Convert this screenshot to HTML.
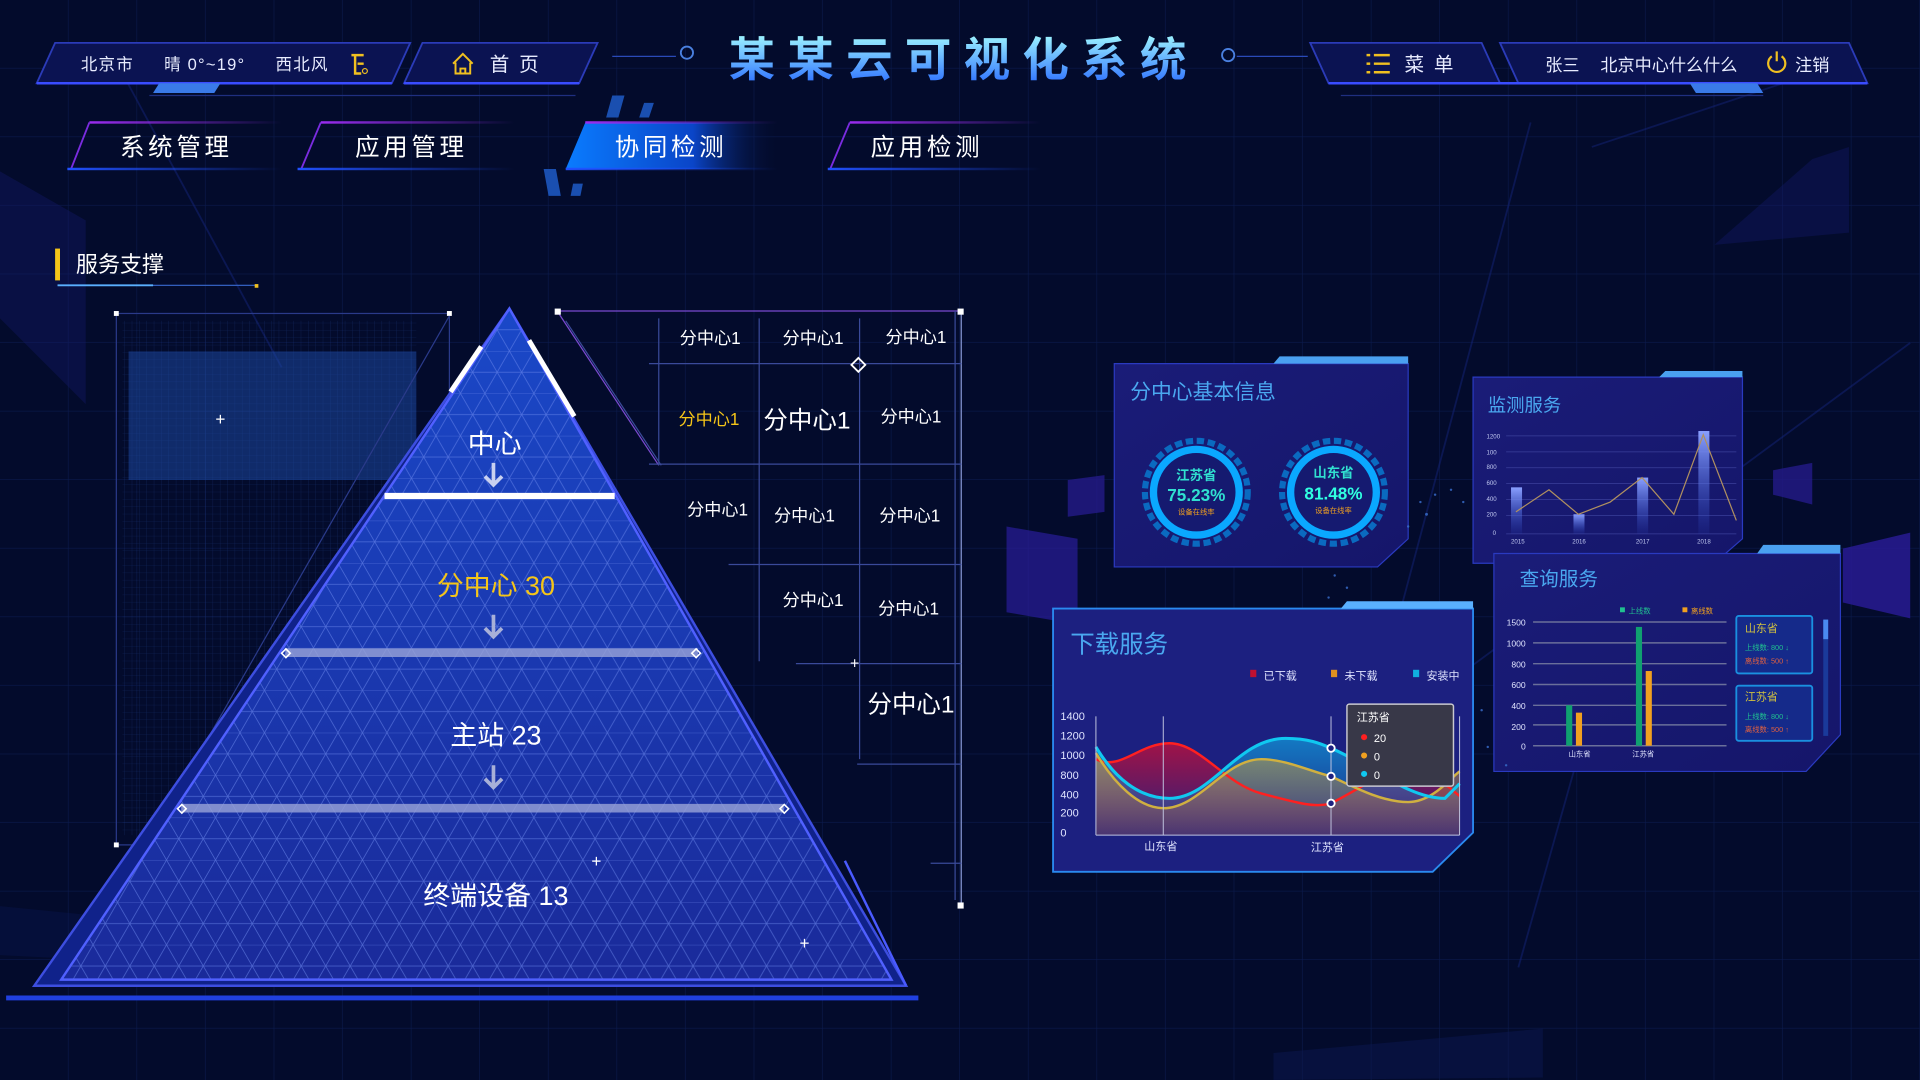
<!DOCTYPE html>
<html><head><meta charset="utf-8">
<style>
html,body{margin:0;padding:0;width:1920px;height:1080px;overflow:hidden;background:#030b2c;}
#root{width:1568px;height:882px;transform:scale(1.22449);transform-origin:0 0;}
svg text{font-family:"Liberation Sans","Noto Sans CJK SC",sans-serif;}
</style></head><body><div id="root">
<svg width="1568" height="882" viewBox="0 0 1568 882" xmlns="http://www.w3.org/2000/svg">
<defs>
<pattern id="grid" width="56" height="56" patternUnits="userSpaceOnUse"><path d="M56 0V56M0 56H56" stroke="#0b1a4c" stroke-width="1" fill="none"/></pattern>
<pattern id="tri" width="20" height="34.64" patternUnits="userSpaceOnUse" x="416" y="252"><path d="M0 0H20M0 17.32H20M0 0L20 34.64M20 0L0 34.64" stroke="#6f8cf0" stroke-width="0.6" fill="none" opacity="0.6"/></pattern>
<pattern id="fine" width="6" height="6" patternUnits="userSpaceOnUse"><path d="M6 0V6M0 6H6" stroke="#2a4fa8" stroke-width="0.5" fill="none"/></pattern>
<linearGradient id="tg" x1="0" y1="0" x2="0" y2="1"><stop offset="0" stop-color="#9ff6ff"/><stop offset="1" stop-color="#2a6cff"/></linearGradient>
<linearGradient id="pyr" x1="0" y1="0" x2="0" y2="1"><stop offset="0" stop-color="#1a48c8"/><stop offset="1" stop-color="#1a2a9a"/></linearGradient>
<linearGradient id="act" x1="0" y1="0" x2="1" y2="0"><stop offset="0" stop-color="#0a7cff"/><stop offset="0.6" stop-color="#0a45c8"/><stop offset="1" stop-color="#05103a" stop-opacity="0"/></linearGradient>
<linearGradient id="tabtop" x1="0" y1="0" x2="1" y2="0"><stop offset="0" stop-color="#9b2cf0"/><stop offset="1" stop-color="#9b2cf0" stop-opacity="0"/></linearGradient>
<linearGradient id="tabbot" x1="0" y1="0" x2="1" y2="0"><stop offset="0" stop-color="#2050ff"/><stop offset="1" stop-color="#2050ff" stop-opacity="0"/></linearGradient>
<linearGradient id="panel" x1="0" y1="0" x2="1" y2="1"><stop offset="0" stop-color="#1a1c78"/><stop offset="1" stop-color="#15166a"/></linearGradient>
<linearGradient id="redf" x1="0" y1="0" x2="0" y2="1"><stop offset="0" stop-color="#c0103a" stop-opacity="0.8"/><stop offset="1" stop-color="#c0103a" stop-opacity="0.1"/></linearGradient>
<linearGradient id="cyf" x1="0" y1="0" x2="0" y2="1"><stop offset="0" stop-color="#10a0e0" stop-opacity="0.7"/><stop offset="1" stop-color="#10a0e0" stop-opacity="0.05"/></linearGradient>
<linearGradient id="yef" x1="0" y1="0" x2="0" y2="1"><stop offset="0" stop-color="#c0a040" stop-opacity="0.6"/><stop offset="1" stop-color="#c07040" stop-opacity="0.2"/></linearGradient>
<linearGradient id="barg" x1="0" y1="0" x2="0" y2="1"><stop offset="0" stop-color="#8aa0ff"/><stop offset="1" stop-color="#3050d0" stop-opacity="0.1"/></linearGradient>
<clipPath id="pc"><polygon points="416,252 728,800 50,800"/></clipPath>
</defs>
<rect width="1568" height="882" fill="#030b2c"/>
<rect width="1568" height="882" fill="url(#grid)"/>
<!-- streaks -->
<g stroke="#142478" stroke-width="1.5" opacity="0.5">
<line x1="100" y1="60" x2="230" y2="300"/><line x1="1250" y1="100" x2="1130" y2="550"/><line x1="1370" y1="330" x2="1240" y2="790"/>
<line x1="1560" y1="280" x2="1180" y2="560"/><line x1="1300" y1="120" x2="1480" y2="60"/>
</g>
<polygon points="0,140 70,180 70,330 0,260" fill="#141a6a" opacity="0.4"/>
<polygon points="1480,130 1510,120 1510,190 1400,200" fill="#141a6a" opacity="0.4"/>
<polygon points="1040,860 1260,840 1260,880 1040,882" fill="#0b1750" opacity="0.5"/>
<polygon points="0,740 200,760 200,790 0,780" fill="#0b1750" opacity="0.4"/>

<!-- header left -->
<polygon points="45,35 335,35 320,68 30,68" fill="#0b1352" stroke="#2b3bb8" stroke-width="1.5"/>
<line x1="30" y1="68" x2="320" y2="68" stroke="#3a4cff" stroke-width="2"/>
<polygon points="345,35 488,35 473,68 330,68" fill="#0b1352" stroke="#2b3bb8" stroke-width="1.5"/>
<line x1="330" y1="68" x2="473" y2="68" stroke="#3a4cff" stroke-width="2"/>
<polygon points="130,68 180,68 175,76 125,76" fill="#3a7ae8"/>
<line x1="122" y1="78" x2="470" y2="78" stroke="#1f2f80"/>
<g fill="#e8ecff" font-size="13.5" letter-spacing="1"><text x="66" y="57">北京市</text><text x="134" y="57">晴 0°~19°</text><text x="225" y="57">西北风</text></g>
<path d="M287 45h10M290 45v15h5M292 52h5" stroke="#f0c020" stroke-width="2" fill="none"/><circle cx="298" cy="58" r="2" stroke="#f0c020" fill="none"/>
<path d="M370 52l8-8 8 8M372 51v9h12v-9M376 60v-4h4v4" stroke="#f0c020" stroke-width="1.6" fill="none"/>
<text x="400" y="58" fill="#e8ecff" font-size="16" letter-spacing="8">首页</text>
<!-- title -->
<line x1="500" y1="46" x2="552" y2="46" stroke="#2a4ab8"/><circle cx="561" cy="43" r="5" fill="none" stroke="#4a80e0" stroke-width="1.5"/>
<line x1="1010" y1="46" x2="1068" y2="46" stroke="#2a4ab8"/><circle cx="1003" cy="45" r="5" fill="none" stroke="#4a80e0" stroke-width="1.5"/>
<text x="787" y="62" text-anchor="middle" fill="url(#tg)" font-size="38" font-weight="bold" letter-spacing="10">某某云可视化系统</text>
<!-- header right -->
<polygon points="1070,35 1210,35 1225,68 1085,68" fill="#0b1352" stroke="#2b3bb8" stroke-width="1.5"/>
<polygon points="1225,35 1510,35 1525,68 1240,68" fill="#0b1352" stroke="#2b3bb8" stroke-width="1.5"/>
<line x1="1085" y1="68" x2="1525" y2="68" stroke="#3a4cff" stroke-width="2"/>
<polygon points="1380,68 1435,68 1440,76 1385,76" fill="#3a7ae8"/>
<line x1="1095" y1="78" x2="1440" y2="78" stroke="#1f2f80"/>
<g stroke="#f0c020" stroke-width="2"><line x1="1116" y1="45" x2="1119" y2="45"/><line x1="1122" y1="45" x2="1135" y2="45"/><line x1="1116" y1="52" x2="1119" y2="52"/><line x1="1122" y1="52" x2="1135" y2="52"/><line x1="1116" y1="59" x2="1119" y2="59"/><line x1="1122" y1="59" x2="1135" y2="59"/></g>
<text x="1147" y="58" fill="#e8ecff" font-size="16" letter-spacing="8">菜单</text>
<text x="1262" y="58" fill="#e8ecff" font-size="14">张三</text>
<text x="1307" y="58" fill="#e8ecff" font-size="14">北京中心什么什么</text>
<path d="M1447 46a7 7 0 1 0 8 0M1451 42v8" stroke="#f0c020" stroke-width="1.8" fill="none"/>
<text x="1466" y="58" fill="#e8ecff" font-size="14">注销</text>

<!-- nav -->
<g>
<rect x="73" y="99" width="157" height="2" fill="url(#tabtop)"/><line x1="73" y1="100" x2="58" y2="138" stroke="#7a2ce0" stroke-width="1.5"/><rect x="55" y="137" width="175" height="2" fill="url(#tabbot)"/>
<text x="144" y="127" text-anchor="middle" fill="#fff" font-size="20" letter-spacing="3">系统管理</text>
<rect x="262" y="99" width="158" height="2" fill="url(#tabtop)"/><line x1="262" y1="100" x2="246" y2="138" stroke="#7a2ce0" stroke-width="1.5"/><rect x="243" y="137" width="177" height="2" fill="url(#tabbot)"/>
<text x="336" y="127" text-anchor="middle" fill="#fff" font-size="20" letter-spacing="3">应用管理</text>
<polygon points="478,100 635,100 635,138 462,138" fill="url(#act)"/>
<rect x="478" y="99" width="157" height="2" fill="url(#tabtop)"/><rect x="462" y="137" width="173" height="2" fill="url(#tabbot)"/>
<g fill="#1a4fb0"><polygon points="500,78 510,78 505,96 495,96"/><polygon points="526,84 534,84 530,96 522,96"/><polygon points="448,160 458,160 454,138 444,138"/><polygon points="468,150 476,150 474,160 466,160"/></g>
<text x="548" y="127" text-anchor="middle" fill="#fff" font-size="20" letter-spacing="3">协同检测</text>
<rect x="694" y="99" width="156" height="2" fill="url(#tabtop)"/><line x1="694" y1="100" x2="678" y2="138" stroke="#7a2ce0" stroke-width="1.5"/><rect x="676" y="137" width="174" height="2" fill="url(#tabbot)"/>
<text x="757" y="127" text-anchor="middle" fill="#fff" font-size="20" letter-spacing="3">应用检测</text>
</g>

<!-- section title -->
<rect x="45" y="203" width="4" height="26" fill="#f5c518"/>
<text x="62" y="222" fill="#fff" font-size="18">服务支撑</text>
<line x1="47" y1="233" x2="210" y2="233" stroke="#3a6ad0"/><line x1="47" y1="233" x2="125" y2="233" stroke="#5ab0ff" stroke-width="1.5"/><rect x="208" y="232" width="3" height="3" fill="#f0c020"/>

<!-- left frame -->
<rect x="95" y="256" width="272" height="434" fill="none" stroke="#2a3a8a" stroke-width="1"/>
<rect x="100" y="262" width="240" height="420" fill="url(#fine)" opacity="0.4"/>
<rect x="105" y="287" width="235" height="105" fill="#1e4ba8" opacity="0.5"/>
<rect x="93" y="254" width="4" height="4" fill="#fff"/><rect x="365" y="254" width="4" height="4" fill="#fff"/><rect x="93" y="688" width="4" height="4" fill="#fff"/>
<text x="180" y="347" fill="#fff" font-size="14" text-anchor="middle">+</text>
<line x1="367" y1="258" x2="80" y2="760" stroke="#2a3a8a"/>
<!-- pyramid -->
<polygon points="416,252 740,805 28,805" fill="#10228a" stroke="#3d4ee0" stroke-width="2"/>
<polygon points="416,252 728,800 50,800" fill="url(#pyr)"/>
<rect x="0" y="240" width="800" height="570" fill="url(#tri)" clip-path="url(#pc)"/>
<polygon points="416,252 728,800 50,800" fill="none" stroke="#5060ff" stroke-width="2"/>
<line x1="690" y1="703" x2="740" y2="805" stroke="#4a5aff" stroke-width="2"/>
<line x1="5" y1="815" x2="750" y2="815" stroke="#2040e0" stroke-width="4"/>
<line x1="368" y1="320" x2="393" y2="283" stroke="#fff" stroke-width="4"/>
<line x1="432" y1="278" x2="469" y2="340" stroke="#fff" stroke-width="4"/>
<line x1="314" y1="405" x2="502" y2="405" stroke="#fff" stroke-width="5"/>
<line x1="233" y1="533" x2="570" y2="533" stroke="#9aa4d8" stroke-width="7" opacity="0.8"/>
<line x1="148" y1="660" x2="640" y2="660" stroke="#9aa4d8" stroke-width="7" opacity="0.8"/>
<g fill="none" stroke="#fff" stroke-width="1.3"><rect x="231" y="531" width="5" height="5" transform="rotate(45 233.5 533.5)"/><rect x="566" y="531" width="5" height="5" transform="rotate(45 568.5 533.5)"/><rect x="146" y="658" width="5" height="5" transform="rotate(45 148.5 660.5)"/><rect x="638" y="658" width="5" height="5" transform="rotate(45 640.5 660.5)"/></g>
<text x="404" y="370" text-anchor="middle" fill="#fff" font-size="22">中心</text>
<path d="M403 378v16M396 389l7 7 7-7" stroke="#c8d0f0" stroke-width="3" fill="none"/>
<text x="405" y="486" text-anchor="middle" fill="#f5c518" font-size="22">分中心 30</text>
<path d="M403 502v16M396 513l7 7 7-7" stroke="#a8b0d8" stroke-width="3" fill="none"/>
<text x="405" y="608" text-anchor="middle" fill="#fff" font-size="22">主站 23</text>
<path d="M403 625v16M396 636l7 7 7-7" stroke="#a8b0d8" stroke-width="3" fill="none"/>
<text x="405" y="739" text-anchor="middle" fill="#fff" font-size="22">终端设备 13</text>
<text x="487" y="708" text-anchor="middle" fill="#fff" font-size="14">+</text>
<text x="657" y="775" text-anchor="middle" fill="#fff" font-size="14">+</text>

<!-- table -->
<g stroke="#3a4a9a" stroke-width="1" fill="none">
<line x1="455" y1="254" x2="785" y2="254" stroke="#7a4ad0"/>
<line x1="785" y1="254" x2="785" y2="740" stroke="#8a9ad8"/>
<line x1="780" y1="254" x2="780" y2="735"/>
<line x1="455" y1="254" x2="538" y2="380" stroke="#7a4ad0"/>
<line x1="462" y1="262" x2="540" y2="380"/>
<line x1="538" y1="260" x2="538" y2="380"/><line x1="620" y1="260" x2="620" y2="540"/><line x1="702" y1="260" x2="702" y2="620"/>
<line x1="530" y1="297" x2="785" y2="297"/><line x1="530" y1="379" x2="785" y2="379"/><line x1="595" y1="461" x2="785" y2="461"/><line x1="650" y1="542" x2="785" y2="542"/><line x1="700" y1="624" x2="785" y2="624"/><line x1="760" y1="705" x2="785" y2="705"/>
</g>
<rect x="453" y="252" width="5" height="5" fill="#fff"/><rect x="782" y="252" width="5" height="5" fill="#fff"/><rect x="782" y="737" width="5" height="5" fill="#fff"/>
<rect x="697" y="294" width="8" height="8" fill="none" stroke="#fff" stroke-width="1.5" transform="rotate(45 701 298)"/>
<text x="698" y="546" text-anchor="middle" fill="#fff" font-size="13">+</text>
<g fill="#fff" font-size="14" text-anchor="middle">
<text x="580" y="281">分中心1</text><text x="664" y="281">分中心1</text><text x="748" y="280">分中心1</text>
<text x="579" y="347" fill="#f5c518">分中心1</text><text x="659" y="350" font-size="20">分中心1</text><text x="744" y="345">分中心1</text>
<text x="586" y="421">分中心1</text><text x="657" y="426">分中心1</text><text x="743" y="426">分中心1</text>
<text x="664" y="495">分中心1</text><text x="742" y="502">分中心1</text>
<text x="744" y="582" font-size="20">分中心1</text>
</g>

<!-- side shapes -->
<polygon points="872,392 902,388 902,418 872,422" fill="#241a8a" opacity="0.8"/>
<polygon points="822,430 880,440 880,510 822,500" fill="#2a1c9a" opacity="0.7"/>
<polygon points="1448,384 1480,378 1480,412 1448,404" fill="#241a8a" opacity="0.8"/>
<polygon points="1505,448 1560,435 1560,505 1505,492" fill="#2a1c9a" opacity="0.8"/>

<!-- panel 分中心基本信息 -->
<polygon points="910,297 1150,297 1150,440 1125,463 910,463" fill="url(#panel)" stroke="#2a3ac0"/>
<polygon points="1045,291 1150,291 1150,297 1040,297" fill="#4aa0f0"/>
<text x="923" y="326" fill="#4aa8f0" font-size="17">分中心基本信息</text>
<g>
<circle cx="977" cy="402" r="42" fill="none" stroke="#0a6ac0" stroke-width="5" stroke-dasharray="6 3"/>
<circle cx="977" cy="402" r="35" fill="#151a70" stroke="#0aa8ff" stroke-width="6"/>
<text x="977" y="392" text-anchor="middle" fill="#30e0d0" font-size="11" font-weight="bold">江苏省</text>
<text x="977" y="409" text-anchor="middle" fill="#30e0d0" font-size="14" font-weight="bold">75.23%</text>
<text x="977" y="420" text-anchor="middle" fill="#f0a020" font-size="6">设备在线率</text>
<circle cx="1089" cy="402" r="42" fill="none" stroke="#0a6ac0" stroke-width="5" stroke-dasharray="6 3"/>
<circle cx="1089" cy="402" r="35" fill="#151a70" stroke="#0aa8ff" stroke-width="6"/>
<text x="1089" y="390" text-anchor="middle" fill="#30e0d0" font-size="11" font-weight="bold">山东省</text>
<text x="1089" y="408" text-anchor="middle" fill="#30ffe0" font-size="14" font-weight="bold">81.48%</text>
<text x="1089" y="419" text-anchor="middle" fill="#f0a020" font-size="6">设备在线率</text>
</g>
<!-- panel 监测服务 -->
<polygon points="1203,308 1423,308 1423,440 1400,460 1203,460" fill="url(#panel)" stroke="#2a3ac0"/>
<polygon points="1360,303 1423,303 1423,308 1355,308" fill="#4aa0f0"/>
<text x="1215" y="336" fill="#4aa8f0" font-size="15">监测服务</text>
<g font-size="5" fill="#c0c8f0"><text x="1214" y="358">1200</text><text x="1214" y="371">100</text><text x="1214" y="383">800</text><text x="1214" y="396">600</text><text x="1214" y="409">400</text><text x="1214" y="422">200</text><text x="1219" y="437">0</text>
<text x="1234" y="444">2015</text><text x="1284" y="444">2016</text><text x="1336" y="444">2017</text><text x="1386" y="444">2018</text></g>
<g stroke="#3a3f9a" stroke-width="0.6"><line x1="1230" y1="356" x2="1418" y2="356"/><line x1="1230" y1="369" x2="1418" y2="369"/><line x1="1230" y1="382" x2="1418" y2="382"/><line x1="1230" y1="395" x2="1418" y2="395"/><line x1="1230" y1="408" x2="1418" y2="408"/><line x1="1230" y1="421" x2="1418" y2="421"/><line x1="1230" y1="436" x2="1418" y2="436"/></g>
<rect x="1234" y="398" width="9" height="38" fill="url(#barg)"/><rect x="1285" y="420" width="9" height="16" fill="url(#barg)"/><rect x="1337" y="390" width="9" height="46" fill="url(#barg)"/><rect x="1387" y="352" width="9" height="84" fill="url(#barg)"/>
<polyline points="1238,418 1265,400 1289,420 1315,410 1341,390 1367,420 1391,355 1418,425" fill="none" stroke="#b09060" stroke-width="1"/>
<!-- panel 查询服务 -->
<polygon points="1220,452 1503,452 1503,600 1475,630 1220,630" fill="url(#panel)" stroke="#2a3ac0"/>
<polygon points="1440,445 1503,445 1503,452 1435,452" fill="#4aa0f0"/>
<text x="1241" y="478" fill="#4aa8f0" font-size="16">查询服务</text>
<rect x="1323" y="496" width="4" height="4" fill="#20c090"/><text x="1330" y="501" fill="#20c090" font-size="6">上线数</text>
<rect x="1374" y="496" width="4" height="4" fill="#f0a020"/><text x="1381" y="501" fill="#f0a020" font-size="6">离线数</text>
<g font-size="7" fill="#e0e4ff" text-anchor="end"><text x="1246" y="511">1500</text><text x="1246" y="528">1000</text><text x="1246" y="545">800</text><text x="1246" y="562">600</text><text x="1246" y="579">400</text><text x="1246" y="596">200</text><text x="1246" y="612">0</text></g>
<g stroke="#6a6f9a" stroke-width="1.2"><line x1="1252" y1="508" x2="1410" y2="508"/><line x1="1252" y1="525" x2="1410" y2="525"/><line x1="1252" y1="542" x2="1410" y2="542"/><line x1="1252" y1="559" x2="1410" y2="559"/><line x1="1252" y1="576" x2="1410" y2="576"/><line x1="1252" y1="592" x2="1410" y2="592"/><line x1="1252" y1="609" x2="1410" y2="609"/></g>
<rect x="1279" y="576" width="5" height="33" fill="#10a070"/><rect x="1287" y="582" width="5" height="27" fill="#f0a020"/>
<rect x="1336" y="512" width="5" height="97" fill="#10a070"/><rect x="1344" y="548" width="5" height="61" fill="#f0a020"/>
<g font-size="6" fill="#e0e4ff" text-anchor="middle"><text x="1290" y="618">山东省</text><text x="1342" y="618">江苏省</text></g>
<rect x="1418" y="503" width="62" height="47" fill="#152a8a" stroke="#1a90e0" stroke-width="1.5" rx="2"/>
<text x="1425" y="516" fill="#d0c040" font-size="9">山东省</text><text x="1425" y="531" fill="#20c090" font-size="6">上线数: 800 ↓</text><text x="1425" y="542" fill="#e06040" font-size="6">离线数: 500 ↑</text>
<rect x="1418" y="560" width="62" height="45" fill="#152a8a" stroke="#1a90e0" stroke-width="1.5" rx="2"/>
<text x="1425" y="572" fill="#d0c040" font-size="9">江苏省</text><text x="1425" y="587" fill="#20c090" font-size="6">上线数: 800 ↓</text><text x="1425" y="598" fill="#e06040" font-size="6">离线数: 500 ↑</text>
<rect x="1489" y="506" width="4" height="95" fill="#1a3a9a"/><rect x="1489" y="506" width="4" height="16" fill="#4a8af0"/>
<!-- panel 下载服务 -->
<polygon points="860,497 1203,497 1203,680 1170,712 860,712" fill="#1c2080" stroke="#2a8af0" stroke-width="1.5"/>
<polygon points="1100,491 1203,491 1203,497 1095,497" fill="#5ab0ff"/>
<text x="874" y="533" fill="#4aa8f0" font-size="20">下载服务</text>
<rect x="1021" y="547" width="5" height="6" fill="#c01030"/><text x="1032" y="555" fill="#e0e4ff" font-size="9">已下载</text>
<rect x="1087" y="547" width="5" height="6" fill="#e09020"/><text x="1098" y="555" fill="#e0e4ff" font-size="9">未下载</text>
<rect x="1154" y="547" width="5" height="6" fill="#10b0e0"/><text x="1165" y="555" fill="#e0e4ff" font-size="9">安装中</text>
<g font-size="9" fill="#e0e4ff"><text x="866" y="588">1400</text><text x="866" y="604">1200</text><text x="866" y="620">1000</text><text x="866" y="636">800</text><text x="866" y="652">400</text><text x="866" y="667">200</text><text x="866" y="683">0</text></g>
<path d="M895 620 C915 630,930 607,955 607 C980 607,1000 640,1030 648 C1060 656,1075 660,1087 656 C1110 645,1130 628,1150 630 C1175 632,1185 645,1192 650 L1192 682 L895 682Z" fill="url(#redf)"/>
<path d="M895 610 C910 635,930 652,955 652 C990 652,1010 603,1050 603 C1070 603,1080 608,1087 611 C1120 625,1150 652,1180 652 L1192 640 L1192 682 L895 682Z" fill="url(#cyf)"/>
<path d="M895 615 C910 640,930 660,950 660 C980 660,1000 620,1030 620 C1050 620,1070 630,1087 634 C1110 645,1130 655,1150 655 C1170 655,1185 635,1192 630 L1192 682 L895 682Z" fill="url(#yef)"/>
<path d="M895 620 C915 630,930 607,955 607 C980 607,1000 640,1030 648 C1060 656,1075 660,1087 656 C1110 645,1130 628,1150 630 C1175 632,1185 645,1192 650" fill="none" stroke="#ff2020" stroke-width="2"/>
<path d="M895 615 C910 640,930 660,950 660 C980 660,1000 620,1030 620 C1050 620,1070 630,1087 634 C1110 645,1130 655,1150 655 C1170 655,1185 635,1192 630" fill="none" stroke="#d0b040" stroke-width="2"/>
<path d="M895 610 C910 635,930 652,955 652 C990 652,1010 603,1050 603 C1070 603,1080 608,1087 611 C1120 625,1150 652,1180 652 L1192 640" fill="none" stroke="#10c8f0" stroke-width="2.5"/>
<g stroke="#c0c4e0" stroke-width="0.8"><line x1="895" y1="585" x2="895" y2="682"/><line x1="895" y1="682" x2="1192" y2="682"/><line x1="1192" y1="585" x2="1192" y2="682"/><line x1="950" y1="585" x2="950" y2="682"/><line x1="1087" y1="585" x2="1087" y2="682"/></g>
<g fill="#1c2080" stroke="#fff" stroke-width="1.5"><circle cx="1087" cy="611" r="3"/><circle cx="1087" cy="634" r="3"/><circle cx="1087" cy="656" r="3"/></g>
<rect x="1100" y="575" width="87" height="67" fill="#383848" stroke="#c8c8d0" stroke-width="1.2" rx="2"/>
<text x="1108" y="589" fill="#fff" font-size="9">江苏省</text>
<circle cx="1114" cy="602" r="2.5" fill="#ff2020"/><text x="1122" y="606" fill="#fff" font-size="9">20</text>
<circle cx="1114" cy="617" r="2.5" fill="#f0a020"/><text x="1122" y="621" fill="#fff" font-size="9">0</text>
<circle cx="1114" cy="632" r="2.5" fill="#10c8f0"/><text x="1122" y="636" fill="#fff" font-size="9">0</text>
<g font-size="9" fill="#e0e4ff" text-anchor="middle"><text x="948" y="694">山东省</text><text x="1084" y="695">江苏省</text></g>
<!-- particle dots -->
<g fill="#3a70d0" opacity="0.8"><circle cx="1160" cy="410" r="1"/><circle cx="1172" cy="404" r="1"/><circle cx="1185" cy="400" r="1"/><circle cx="1195" cy="410" r="1"/><circle cx="1150" cy="430" r="1"/><circle cx="1165" cy="420" r="1.2"/><circle cx="1090" cy="470" r="1"/><circle cx="1100" cy="480" r="1"/><circle cx="1085" cy="488" r="1"/><circle cx="1210" cy="580" r="1"/><circle cx="1215" cy="610" r="1"/><circle cx="1230" cy="625" r="1"/></g>
</svg>
</div></body></html>
